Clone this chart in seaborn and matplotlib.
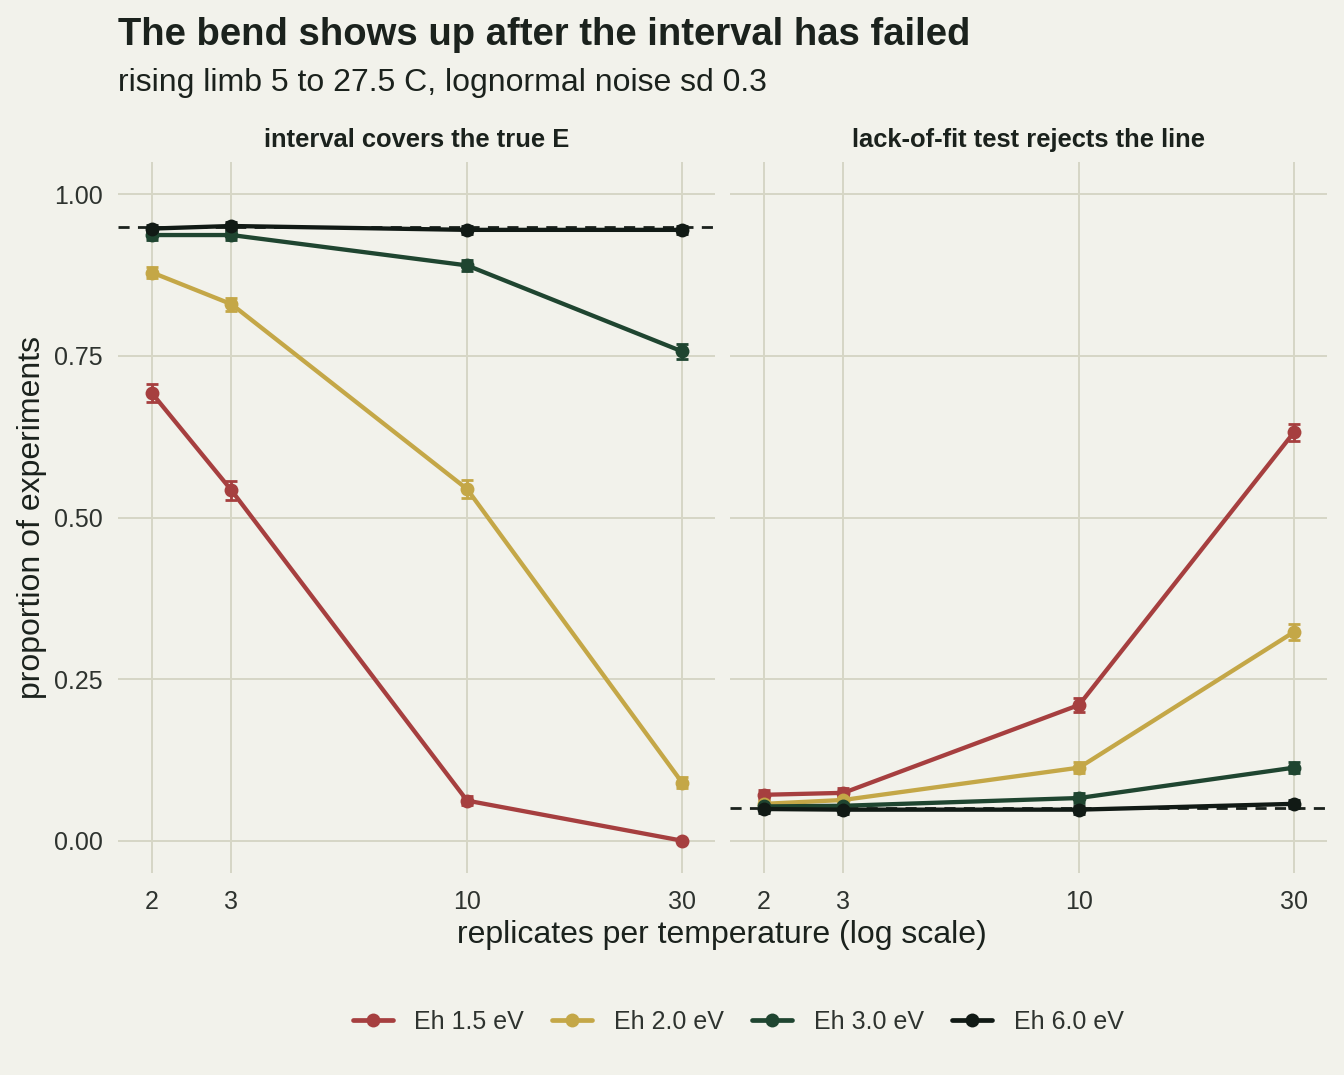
import numpy as np
import pandas as pd
import matplotlib
matplotlib.use("Agg")
import matplotlib.pyplot as plt
from matplotlib.lines import Line2D
import seaborn as sns

# replicates per temperature
reps = [2, 3, 10, 30]
energies = ["Eh 1.5 eV", "Eh 2.0 eV", "Eh 3.0 eV", "Eh 6.0 eV"]

# panel 1: interval covers the true E
cover_15 = [0.692, 0.542, 0.062, 0.000]
cover_20 = [0.879, 0.830, 0.544, 0.090]
cover_30 = [0.937, 0.937, 0.890, 0.757]
cover_60 = [0.947, 0.951, 0.945, 0.945]
cover_err_15 = [0.014, 0.015, 0.007, 0.001]
cover_err_20 = [0.009, 0.010, 0.014, 0.008]
cover_err_30 = [0.007, 0.007, 0.009, 0.012]
cover_err_60 = [0.006, 0.006, 0.006, 0.006]

# panel 2: lack-of-fit test rejects the line
reject_15 = [0.071, 0.074, 0.210, 0.632]
reject_20 = [0.057, 0.063, 0.113, 0.323]
reject_30 = [0.053, 0.054, 0.066, 0.113]
reject_60 = [0.049, 0.048, 0.048, 0.057]
reject_err_15 = [0.007, 0.007, 0.011, 0.013]
reject_err_20 = [0.006, 0.006, 0.009, 0.013]
reject_err_30 = [0.006, 0.006, 0.007, 0.009]
reject_err_60 = [0.006, 0.006, 0.006, 0.006]

panel_titles = ["interval covers the true E", "lack-of-fit test rejects the line"]
nominal = [0.95, 0.05]

colours = ["#A63F3F", "#C4A747", "#1F4530", "#111A15"]
bg = "#F2F2EB"
grid_col = "#D6D6C5"
ink = "#1B221D"

def make_frame(vals, errs):
    rows = []
    for eh, v, e in zip(energies, vals, errs):
        for r, p, s in zip(reps, v, e):
            rows.append({"reps": r, "prop": p, "err": s, "Eh": eh})
    return pd.DataFrame(rows)

cover = make_frame([cover_15, cover_20, cover_30, cover_60],
                   [cover_err_15, cover_err_20, cover_err_30, cover_err_60])
reject = make_frame([reject_15, reject_20, reject_30, reject_60],
                    [reject_err_15, reject_err_20, reject_err_30, reject_err_60])

sns.set_theme(style="white")
plt.rcParams["font.family"] = ["Liberation Sans", "DejaVu Sans"]
plt.rcParams["text.color"] = ink

fig = plt.figure(figsize=(13.44, 10.75), dpi=100, facecolor=bg)
W, H = 1344, 1075
ax1 = fig.add_axes([118 / W, (H - 873) / H, 597 / W, 711 / H])
ax2 = fig.add_axes([730 / W, (H - 873) / H, 597 / W, 711 / H])

for ax, df, ttl, nom in zip([ax1, ax2], [cover, reject], panel_titles, nominal):
    ax.set_facecolor(bg)
    ax.axhline(nom, color=ink, lw=2.0, ls=(0, (4, 3)), zorder=1)
    for eh, c in zip(energies, colours):
        d = df[df["Eh"] == eh]
        ax.errorbar(d["reps"], d["prop"], yerr=d["err"], fmt="none",
                    ecolor=c, elinewidth=2.0, capsize=4, capthick=2.0, zorder=3)
    sns.lineplot(data=df, x="reps", y="prop", hue="Eh", palette=colours,
                 marker="o", markersize=10, markeredgewidth=0, lw=3.1,
                 legend=False, ax=ax, zorder=4)
    ax.set_xscale("log")
    ax.set_xlim(1.68, 35.5)
    ax.set_ylim(-0.05, 1.05)
    ax.set_xticks(reps)
    ax.set_xticklabels([str(r) for r in reps])
    ax.minorticks_off()
    ax.set_yticks([0, 0.25, 0.5, 0.75, 1.0])
    ax.set_yticklabels(["0.00", "0.25", "0.50", "0.75", "1.00"])
    ax.grid(True, color=grid_col, lw=1.4)
    ax.set_axisbelow(True)
    for s in ax.spines.values():
        s.set_visible(False)
    ax.tick_params(axis="both", length=0, labelsize=18, labelcolor="#2E332F")
    ax.tick_params(axis="x", pad=12)
    ax.tick_params(axis="y", pad=11)
    ax.set_xlabel("")
    ax.set_ylabel("")
    ax.set_title(ttl, fontsize=18.4, fontweight="bold", color=ink, pad=11)

ax2.set_yticklabels([])

fig.text(118 / W, 1 - 45 / H, "The bend shows up after the interval has failed",
         fontsize=27.5, fontweight="bold", color=ink, ha="left", va="baseline")
fig.text(118 / W, 1 - 91 / H, "rising limb 5 to 27.5 C, lognormal noise sd 0.3",
         fontsize=23, color=ink, ha="left", va="baseline")
fig.text(722 / W, 1 - 935 / H, "replicates per temperature (log scale)",
         fontsize=23, color=ink, ha="center", va="center")
fig.text(32 / W, 1 - 518 / H, "proportion of experiments",
         fontsize=23, color=ink, ha="center", va="center", rotation=90)

handles = [Line2D([0], [0], color=c, lw=3.4, marker="o", markersize=10,
                  markeredgewidth=0) for c in colours]
fig.legend(handles, energies, loc="center", bbox_to_anchor=(738 / W, 1 - 1022 / H),
           ncol=4, frameon=False, fontsize=18, handlelength=1.6,
           handletextpad=0.85, columnspacing=1.15, labelcolor="#2E332F")

fig.savefig("out.png", dpi=100, facecolor=bg)
